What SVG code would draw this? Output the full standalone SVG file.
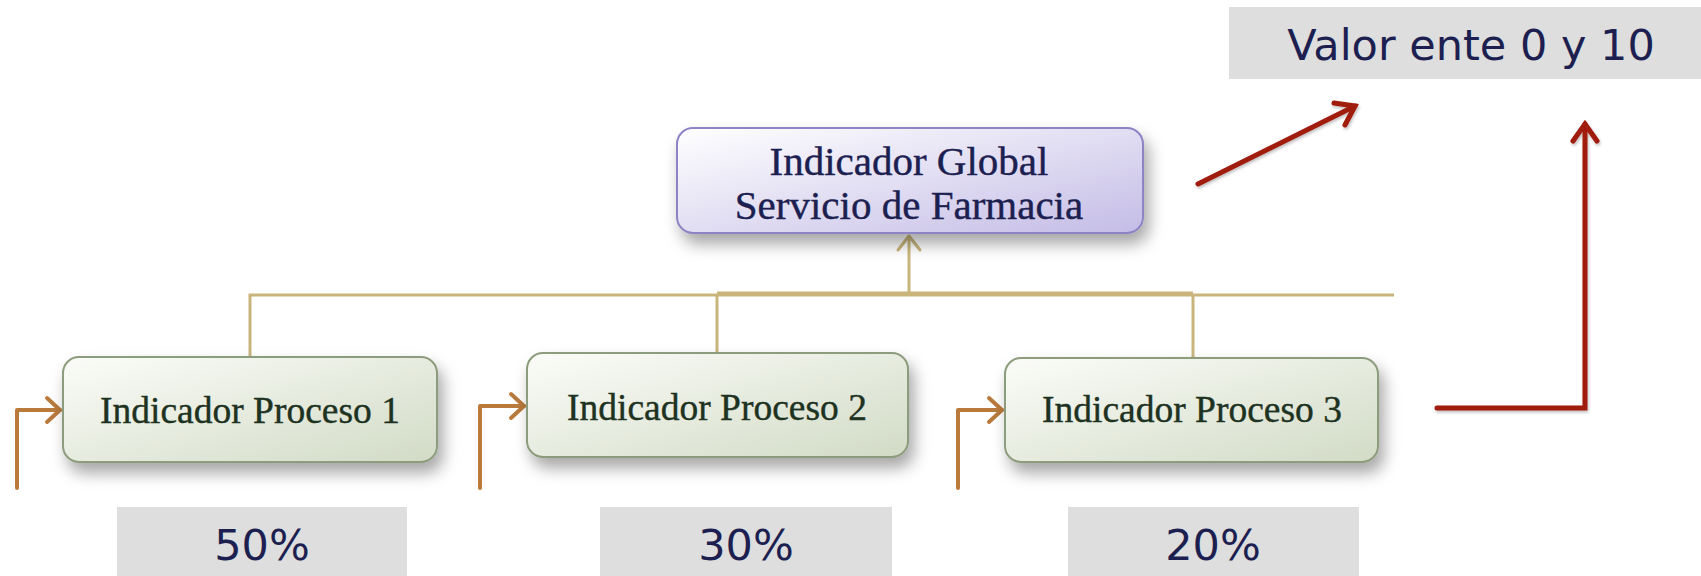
<svg xmlns="http://www.w3.org/2000/svg" width="1701" height="576" viewBox="0 0 1701 576">
<defs>
<linearGradient id="gGlobal" x1="0" y1="0" x2="1" y2="1">
<stop offset="0" stop-color="#ffffff"/>
<stop offset="1" stop-color="#c4bce6"/>
</linearGradient>
<linearGradient id="gProc" x1="0" y1="0" x2="1" y2="1">
<stop offset="0" stop-color="#fbfcf8"/>
<stop offset="1" stop-color="#d2dbc6"/>
</linearGradient>
<filter id="sh" x="-10%" y="-20%" width="130%" height="160%">
<feDropShadow dx="5" dy="10" stdDeviation="8" flood-color="#000" flood-opacity="0.35"/>
</filter>
<filter id="shs" x="-10%" y="-20%" width="130%" height="160%">
<feDropShadow dx="1" dy="2" stdDeviation="1.5" flood-color="#000" flood-opacity="0.25"/>
</filter>
</defs>
<style>
.global{fill:url(#gGlobal);stroke:#8c84c4;stroke-width:2}
.proc{fill:url(#gProc);stroke:#8c9c7c;stroke-width:2}
.gtxt{font-family:"Liberation Serif",serif;font-size:41px;fill:#1c2050;stroke:#1c2050;stroke-width:0.4;text-anchor:middle}
.ptxt{font-family:"Liberation Serif",serif;font-size:37.5px;fill:#1e3222;stroke:#1e3222;stroke-width:0.4;text-anchor:middle}
.gray{fill:#dedede}
.vtxt{font-family:"DejaVu Sans",Verdana,sans-serif;font-size:43px;fill:#1c1f50;text-anchor:middle}
.tan{fill:none;stroke:#c9b57c;stroke-width:3}
.orange{fill:none;stroke:#b97a3c;stroke-width:4;stroke-linecap:round;stroke-linejoin:round}
.red{fill:none;stroke:#a01a0c;stroke-width:5;stroke-linecap:round;stroke-linejoin:miter}
</style>
<rect width="1701" height="576" fill="#ffffff"/>

<g id="connectors">
<path class="tan" d="M250 357 V295 H1394"/>
<path class="tan" d="M717 353 V295"/>
<path class="tan" d="M1193 358 V295"/>
<path class="tan" d="M717 293 H1193" stroke-width="4"/>
<path class="tan" d="M909 295 V236" stroke-width="4"/>
<path class="tan" d="M898 250 L909 236 L920 250" stroke-width="5" stroke-linecap="round" stroke-linejoin="round"/>
<path class="orange" d="M17 488 V410 H60"/>
<path class="orange" d="M47 398 L60 410 L47 422" stroke-width="5"/>
<path class="orange" d="M480 488 V406 H524"/>
<path class="orange" d="M511 394 L524 406 L511 418" stroke-width="5"/>
<path class="orange" d="M958 488 V410 H1002"/>
<path class="orange" d="M989 398 L1002 410 L989 422" stroke-width="5"/>
<g filter="url(#shs)">
<path class="red" d="M1198 184 L1355 106"/>
<path class="red" d="M1334 103 L1355 106 L1345 125"/>
<path class="red" d="M1437 408 H1585 V124"/>
<path class="red" d="M1573 141 L1585 124 L1597 141"/>
</g>
</g>

<g id="valor">
<rect class="gray" x="1229" y="7" width="472" height="72"/>
<text class="vtxt" x="1471" y="60">Valor ente 0 y 10</text>
</g>

<g id="global">
<rect class="global" x="677" y="128" width="466" height="105" rx="16" filter="url(#sh)"/>
<text class="gtxt" x="909" y="175">Indicador Global</text>
<text class="gtxt" x="909" y="219">Servicio de Farmacia</text>
</g>

<g id="proceso1">
<rect class="proc" x="63" y="357" width="374" height="105" rx="16" filter="url(#sh)"/>
<text class="ptxt" x="250" y="423">Indicador Proceso 1</text>
</g>

<g id="proceso2">
<rect class="proc" x="527" y="353" width="381" height="104" rx="16" filter="url(#sh)"/>
<text class="ptxt" x="717" y="420">Indicador Proceso 2</text>
</g>

<g id="proceso3">
<rect class="proc" x="1005" y="358" width="373" height="104" rx="16" filter="url(#sh)"/>
<text class="ptxt" x="1192" y="422">Indicador Proceso 3</text>
</g>

<g id="p50">
<rect class="gray" x="117" y="507" width="290" height="69"/>
<text class="vtxt" x="262" y="560">50%</text>
</g>
<g id="p30">
<rect class="gray" x="600" y="507" width="292" height="69"/>
<text class="vtxt" x="746" y="560">30%</text>
</g>
<g id="p20">
<rect class="gray" x="1068" y="507" width="291" height="69"/>
<text class="vtxt" x="1213" y="560">20%</text>
</g>
</svg>
